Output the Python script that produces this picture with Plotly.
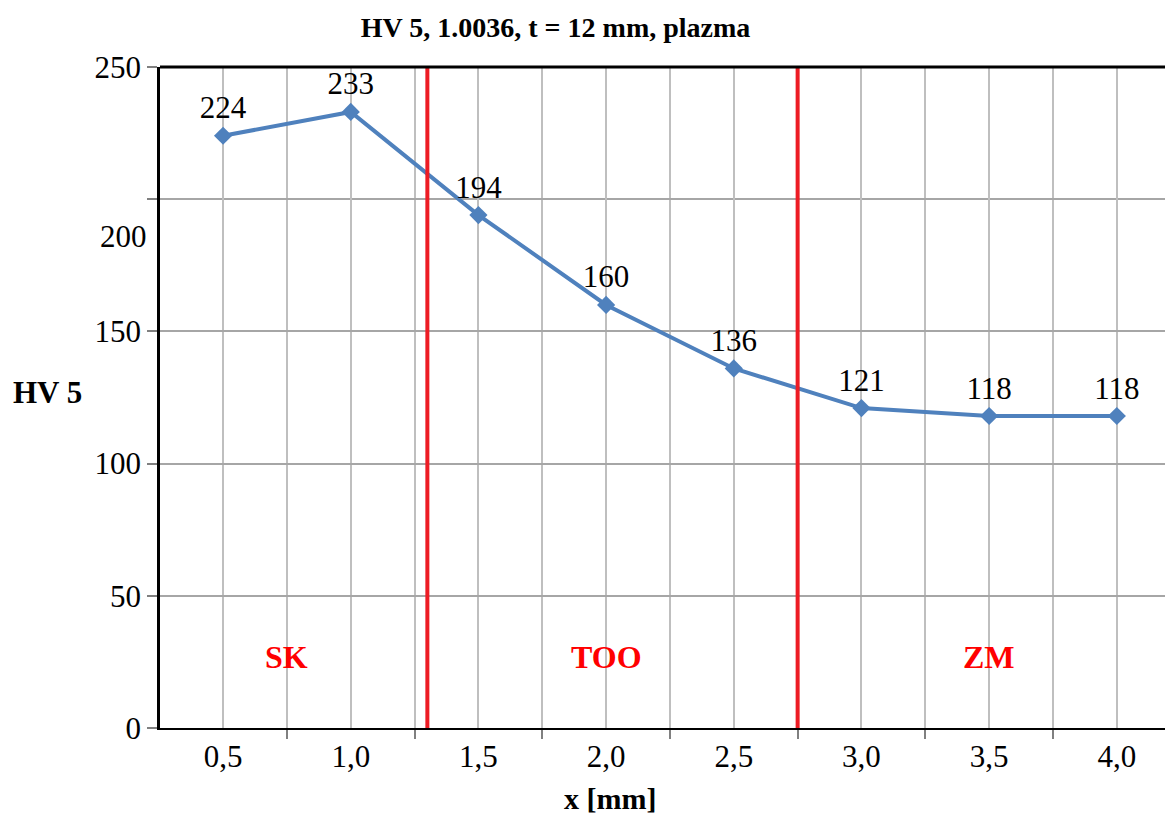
import plotly.graph_objects as go

# data
x_mm = [0.5, 1.0, 1.5, 2.0, 2.5, 3.0, 3.5, 4.0]
x_labels = ['0,5', '1,0', '1,5', '2,0', '2,5', '3,0', '3,5', '4,0']
hv5 = [224, 233, 194, 160, 136, 121, 118, 118]

zone_borders = [1.3, 2.75]
zone_names = ['SK', 'TOO', 'ZM']
zone_x = [0.75, 2.0, 3.5]
zone_y = [27, 27, 27]

y_ticks = [0, 50, 100, 150, 250]
x_bounds = [0.25, 0.75, 1.25, 1.75, 2.25, 2.75, 3.25, 3.75, 4.25]

serif = 'Liberation Serif'
fs = 31

fig = go.Figure()

# krivka tvrdosti
fig.add_trace(go.Scatter(
    x=x_mm, y=hv5,
    mode='lines+markers+text',
    text=[str(v) for v in hv5],
    textposition='top center',
    textfont=dict(family=serif, size=fs, color='black'),
    line=dict(color='#4F81BD', width=4),
    marker=dict(symbol='diamond', size=14, color='#4F81BD'),
    showlegend=False,
    cliponaxis=False
))

# hranice zon
for xb in zone_borders:
    fig.add_vline(x=xb, line=dict(color='#ED1C24', width=4), layer='above')

# popisky zon
for name, zx, zy in zip(zone_names, zone_x, zone_y):
    fig.add_annotation(x=zx, y=zy, text='<b>%s</b>' % name, showarrow=False,
                       font=dict(family=serif, size=32, color='#FF0000'))

# horni okraj
fig.add_shape(type='line', xref='paper', yref='paper', x0=0, x1=1, y0=1, y1=1,
              line=dict(color='black', width=3))

# posunuty popisek 200 (jako v originalu)
fig.add_annotation(x=0, xref='paper', y=186, text='200', showarrow=False,
                   xanchor='right', xshift=-11,
                   font=dict(family=serif, size=fs, color='black'))

# popisky os
fig.add_annotation(x=-0.1106, xref='paper', y=0.507, yref='paper', text='<b>HV 5</b>',
                   xanchor='center', yanchor='middle',
                   showarrow=False, font=dict(family=serif, size=fs, color='black'))
fig.add_annotation(x=0.444, xref='paper', y=-0.106, yref='paper', text='<b>x [mm]</b>',
                   xanchor='center', yanchor='middle',
                   showarrow=False, font=dict(family=serif, size=30, color='black'))

fig.update_layout(
    width=1165, height=810,
    margin=dict(l=152, r=0, t=59, b=90),
    paper_bgcolor='white', plot_bgcolor='white',
    title=dict(text='<b>HV 5, 1.0036, t = 12 mm, plazma</b>', x=0.470, xanchor='center',
               y=0.9765, yanchor='middle', xref='container', yref='container',
               font=dict(family=serif, size=28, color='black')),
    xaxis=dict(
        range=[0.253, 4.22],
        tickmode='array', tickvals=x_mm, ticktext=x_labels,
        ticks='', showgrid=True, gridcolor='#BFBFBF', gridwidth=1.5,
        showline=True, linecolor='black', linewidth=2,
        tickfont=dict(family=serif, size=fs, color='black'),
        zeroline=False,
        minor=dict(tickmode='array', tickvals=x_bounds, ticks='outside', ticklen=9,
                   tickcolor='#808080', tickwidth=1.5, showgrid=True,
                   gridcolor='#BFBFBF', gridwidth=1.5)
    ),
    yaxis=dict(
        range=[0, 250],
        tickmode='array', tickvals=y_ticks,
        ticks='outside', ticklen=10, tickcolor='#808080', tickwidth=1.5,
        showgrid=True, gridcolor='#A6A6A6', gridwidth=1.5,
        showline=True, linecolor='black', linewidth=2.5,
        zeroline=False,
        tickfont=dict(family=serif, size=fs, color='black'),
        minor=dict(tickmode='array', tickvals=[200], ticks='outside', ticklen=10,
                   tickcolor='#808080', tickwidth=1.5, showgrid=True,
                   gridcolor='#A6A6A6', gridwidth=1.5)
    )
)

fig.write_html("out.html")
